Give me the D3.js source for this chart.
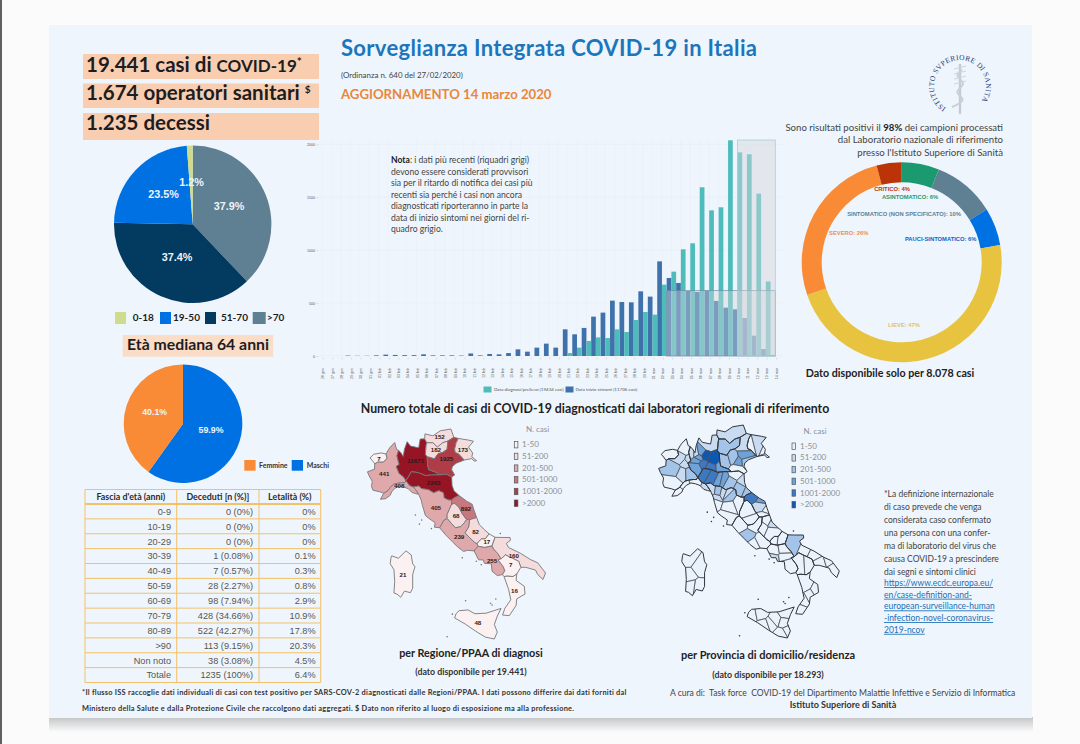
<!DOCTYPE html>
<html>
<head>
<meta charset="utf-8">
<script src="https://cdn.jsdelivr.net/npm/d3@7"></script>
<style>
  body { margin: 0; background: #fbfbfb; }
  svg { display: block; font-family: Lato, sans-serif; }
</style>
</head>
<body>
<div id="poster"></div>
<script>
// Epidemic curve
var curveDates = ["26 gen","27 gen","28 gen","29 gen","30 gen","31 gen","01 feb","02 feb","03 feb","04 feb","05 feb","06 feb","07 feb","08 feb","09 feb","10 feb","11 feb","12 feb","13 feb","14 feb","15 feb","16 feb","17 feb","18 feb","19 feb","20 feb","21 feb","22 feb","23 feb","24 feb","25 feb","26 feb","27 feb","28 feb","29 feb","01 mar","02 mar","03 mar","04 mar","05 mar","06 mar","07 mar","08 mar","09 mar","10 mar","11 mar","12 mar","13 mar","14 mar"];
var onsetCases = [0,0,0,4,2,2,6,13,10,8,8,16,6,6,6,4,24,6,19,16,28,63,41,79,117,79,252,205,265,372,410,523,510,507,611,561,894,737,690,614,605,617,520,457,441,359,192,66,10];
var diagnosisCases = [0,0,0,0,0,0,0,0,0,0,0,0,0,0,0,0,0,0,0,0,0,0,0,0,0,0,28,79,142,176,170,252,227,340,416,391,674,797,1008,1065,1594,1376,1405,2038,1924,1906,1534,705,0];
var yTicks = [0, 500, 1000, 1500, 2000];
var curveLegend = ["Data diagnosi/prelievo (19434 casi)", "Data inizio sintomi (11706 casi)"];

// Pies
var ageLabels = [">70", "51-70", "19-50", "0-18"];
var ageShares = [37.9, 37.4, 23.5, 1.2];
var ageColors = ["#5f7f93", "#033a60", "#0071e3", "#cfdc8e"];
var sexLabels = ["Maschi", "Femmine"];
var sexShares = [59.9, 40.1];
var sexColors = ["#0071e3", "#f98a36"];

// Clinical state donut
var stateLabels = ["ASINTOMATICO", "SINTOMATICO (NON SPECIFICATO)", "PAUCI-SINTOMATICO", "LIEVE", "SEVERO", "CRITICO"];
var stateShares = [6, 10, 6, 47, 26, 4];
var stateColors = ["#1b9a70", "#5f7f93", "#0071e3", "#e8c340", "#f98a36", "#bb3408"];

// Deaths table
var tableHead = ["Fascia d'età (anni)", "Deceduti [n (%)]", "Letalità (%)"];
var tableAges = ["0-9","10-19","20-29","30-39","40-49","50-59","60-69","70-79","80-89",">90","Non noto","Totale"];
var tableDeaths = ["0 (0%)","0 (0%)","0 (0%)","1 (0.08%)","7 (0.57%)","28 (2.27%)","98 (7.94%)","428 (34.66%)","522 (42.27%)","113 (9.15%)","38 (3.08%)","1235 (100%)"];
var tableLethality = ["0%","0%","0%","0.1%","0.3%","0.8%","2.9%","10.9%","17.8%","20.3%","4.5%","6.4%"];

// Maps: cases per region, rough outlines and label anchors in lon/lat
var classLabels = ["1-50", "51-200", "201-500", "501-1000", "1001-2000", ">2000"];
var classBreaks = [51, 201, 501, 1001, 2001];
var redClasses = ["#fbf1f1", "#f4dcdc", "#dfa9ac", "#c9777f", "#ae3d48", "#951524"];
var blueClasses = ["#eaf2fb", "#c8dbf1", "#a3c4e8", "#6fa2d9", "#3c79c2", "#0d58b0"];

var regionNames = ["Valle d'Aosta","Piemonte","Liguria","Lombardia","Bolzano","Trento","Veneto","Friuli","Emilia-Romagna","Toscana","Umbria","Marche","Lazio","Abruzzo","Molise","Campania","Puglia","Basilicata","Calabria","Sicilia","Sardegna"];
var regionCases = [7,441,408,11671,152,182,1925,173,2263,405,68,892,239,82,17,255,160,7,16,48,21];
var regionLabelAt = [[7.4,45.73],[7.75,45.0],[8.75,44.42],[9.85,45.62],[11.45,46.72],[11.2,46.12],[11.9,45.72],[13.0,46.12],[11.05,44.58],[11.2,43.4],[12.55,43.0],[13.2,43.35],[12.75,41.95],[13.85,42.2],[14.6,41.72],[14.95,40.75],[16.4,41.0],[16.2,40.55],[16.45,39.2],[14.0,37.55],[9.0,40.05]];
var regionOutlines = [
  [[6.80,45.75],[7.05,45.92],[7.55,45.98],[7.87,45.93],[7.94,45.73],[7.70,45.55],[7.30,45.55],[7.12,45.47],[6.95,45.63]],
  [[7.12,45.47],[7.30,45.55],[7.70,45.55],[7.94,45.73],[7.87,45.93],[8.05,46.15],[8.15,46.25],[8.45,46.46],[8.57,46.15],[8.71,46.10],[8.60,45.85],[8.65,45.70],[8.75,45.45],[8.55,45.35],[8.75,45.02],[9.05,44.85],[9.20,44.68],[9.12,44.58],[8.90,44.58],[8.60,44.55],[8.35,44.50],[8.15,44.35],[8.00,44.20],[7.72,44.08],[7.45,44.15],[7.00,44.22],[6.90,44.40],[6.95,44.65],[6.75,44.90],[6.63,45.10],[7.10,45.22]],
  [[7.72,44.08],[7.50,43.79],[7.85,43.82],[8.15,43.98],[8.25,44.15],[8.45,44.31],[8.75,44.42],[9.05,44.38],[9.35,44.30],[9.60,44.12],[9.85,44.06],[10.05,44.03],[9.85,44.25],[9.70,44.38],[9.45,44.45],[9.20,44.68],[9.12,44.58],[8.90,44.58],[8.60,44.55],[8.35,44.50],[8.15,44.35],[8.00,44.20]],
  [[8.71,46.10],[8.85,46.00],[9.02,45.82],[9.10,46.15],[9.28,46.50],[9.50,46.30],[10.05,46.22],[10.15,46.62],[10.45,46.63],[10.60,46.45],[10.55,46.35],[10.50,45.92],[10.62,45.80],[10.65,45.42],[10.72,45.20],[11.20,45.08],[11.43,44.95],[10.90,44.95],[10.50,44.92],[10.10,45.04],[9.85,45.08],[9.55,45.10],[9.40,44.90],[9.20,44.68],[9.05,44.85],[8.75,45.02],[8.55,45.35],[8.75,45.45],[8.65,45.70],[8.60,45.85]],
  [[10.45,46.63],[10.47,46.86],[11.00,46.77],[11.50,47.00],[12.20,47.08],[12.40,46.70],[12.00,46.53],[11.65,46.45],[11.30,46.25],[11.00,46.45],[10.60,46.45]],
  [[10.60,46.45],[11.00,46.45],[11.30,46.25],[11.65,46.45],[12.00,46.53],[11.95,46.15],[11.65,46.00],[11.35,45.95],[11.10,45.70],[10.90,45.75],[10.62,45.80],[10.50,45.92],[10.55,46.35]],
  [[10.62,45.80],[10.90,45.75],[11.10,45.70],[11.35,45.95],[11.65,46.00],[11.95,46.15],[12.00,46.53],[12.40,46.70],[12.70,46.65],[12.55,46.45],[12.45,46.15],[12.50,46.00],[12.70,45.95],[13.10,45.65],[12.55,45.50],[12.30,45.35],[12.25,45.20],[12.45,44.95],[12.25,44.85],[11.90,44.98],[11.43,44.95],[11.20,45.08],[10.72,45.20],[10.65,45.42]],
  [[12.70,46.65],[13.40,46.57],[13.71,46.52],[13.38,46.25],[13.65,45.98],[13.60,45.80],[13.92,45.62],[13.75,45.60],[13.60,45.72],[13.10,45.65],[12.70,45.95],[12.50,46.00],[12.45,46.15],[12.55,46.45]],
  [[9.20,44.68],[9.40,44.90],[9.55,45.10],[9.85,45.08],[10.10,45.04],[10.50,44.92],[10.90,44.95],[11.43,44.95],[11.90,44.98],[12.25,44.85],[12.28,44.45],[12.40,44.20],[12.75,43.97],[12.40,43.85],[12.25,43.75],[12.05,43.75],[11.75,43.85],[11.70,44.10],[11.40,44.20],[11.05,44.10],[10.70,44.25],[10.25,44.30],[10.05,44.42],[9.70,44.38],[9.45,44.45]],
  [[10.05,44.03],[9.85,44.25],[9.70,44.38],[10.05,44.42],[10.25,44.30],[10.70,44.25],[11.05,44.10],[11.40,44.20],[11.70,44.10],[11.75,43.85],[12.05,43.75],[12.25,43.75],[12.25,43.55],[12.10,43.30],[11.95,43.05],[11.95,42.85],[11.75,42.78],[11.45,42.40],[11.10,42.43],[11.15,42.65],[10.75,42.85],[10.50,43.00],[10.30,43.50],[10.22,43.75]],
  [[12.10,43.30],[12.25,43.55],[12.45,43.60],[12.75,43.40],[12.95,43.10],[13.25,42.80],[13.10,42.65],[12.85,42.45],[12.50,42.40],[12.25,42.60],[11.95,42.85],[11.95,43.05]],
  [[12.75,43.97],[13.25,43.70],[13.62,43.55],[13.75,43.25],[13.92,42.90],[13.45,42.80],[13.25,42.80],[12.95,43.10],[12.75,43.40],[12.45,43.60],[12.25,43.55],[12.25,43.75],[12.40,43.85]],
  [[11.45,42.40],[11.75,42.78],[11.95,42.85],[12.25,42.60],[12.50,42.40],[12.85,42.45],[13.10,42.65],[13.25,42.80],[13.45,42.80],[13.40,42.45],[13.15,42.15],[13.40,41.95],[13.75,41.70],[13.95,41.60],[14.03,41.48],[13.85,41.35],[13.75,41.25],[13.30,41.28],[13.05,41.22],[12.65,41.45],[12.25,41.75],[11.85,42.05]],
  [[13.45,42.80],[13.92,42.90],[14.10,42.55],[14.45,42.30],[14.75,42.10],[14.50,41.85],[14.25,41.85],[14.03,41.70],[13.95,41.60],[13.75,41.70],[13.40,41.95],[13.15,42.15],[13.40,42.45]],
  [[14.75,42.10],[15.15,41.93],[14.95,41.50],[14.45,41.42],[14.03,41.48],[13.95,41.60],[14.03,41.70],[14.25,41.85],[14.50,41.85]],
  [[13.85,41.35],[14.03,41.48],[14.45,41.42],[14.95,41.50],[15.05,41.35],[15.35,41.10],[15.55,40.85],[15.35,40.80],[15.70,40.45],[15.80,40.25],[15.65,40.05],[15.30,40.00],[14.95,40.22],[14.90,40.60],[14.45,40.62],[14.35,40.80],[14.05,40.80],[13.75,41.25]],
  [[15.15,41.93],[15.55,41.92],[16.15,41.92],[16.18,41.78],[15.90,41.62],[16.05,41.42],[16.85,41.13],[17.50,40.82],[18.00,40.65],[18.52,40.13],[18.35,39.80],[18.00,40.05],[17.85,40.28],[17.20,40.42],[16.87,40.42],[16.73,40.72],[16.40,40.85],[16.10,40.95],[15.85,41.05],[15.55,40.85],[15.35,41.10],[15.05,41.35],[14.95,41.50]],
  [[15.55,40.85],[15.85,41.05],[16.10,40.95],[16.40,40.85],[16.73,40.72],[16.87,40.42],[16.60,40.08],[16.35,39.95],[15.95,39.97],[15.75,39.95],[15.65,40.05],[15.80,40.25],[15.70,40.45],[15.35,40.80]],
  [[15.75,39.95],[15.95,39.97],[16.35,39.95],[16.60,40.08],[16.55,39.75],[17.10,39.45],[17.15,39.05],[16.60,38.80],[16.55,38.45],[16.10,37.92],[15.65,37.95],[15.80,38.30],[16.20,38.75],[16.05,39.30]],
  [[12.45,37.80],[12.55,38.03],[12.75,38.18],[13.35,38.22],[13.80,38.02],[14.55,38.05],[15.55,38.30],[15.30,37.90],[15.10,37.45],[15.30,37.05],[15.10,36.68],[14.50,36.78],[13.85,37.10],[13.15,37.48]],
  [[8.20,40.90],[8.25,41.00],[8.70,40.88],[9.20,41.25],[9.55,41.05],[9.65,40.60],[9.80,40.45],[9.65,40.05],[9.65,39.35],[9.50,39.12],[9.10,39.20],[8.85,38.88],[8.60,39.05],[8.40,39.10],[8.45,39.70],[8.40,40.30],[8.15,40.60]]
];
var smallIslands = [[10.25,42.78],[9.83,43.03],[10.9,42.36],[13.9,40.73],[14.23,40.55],[12.96,40.9],[14.95,38.48],[14.85,38.57],[15.2,38.79],[13.18,38.7],[12.3,38.0],[15.5,42.12],[11.95,36.8],[10.1,42.58]];

// province: region index, lon, lat, class index
var provinces = [
  [0,7.32,45.74,0],
  [1,7.68,45.07,2],[1,8.42,45.32,1],[1,8.62,45.45,1],[1,7.55,44.39,0],[1,8.2,44.9,1],[1,8.62,44.91,2],[1,8.05,45.57,1],[1,8.4,46.0,0],
  [2,8.03,43.89,0],[2,8.48,44.31,0],[2,8.93,44.41,0],[2,9.82,44.1,1],
  [3,8.82,45.82,1],[3,9.08,45.81,1],[3,9.87,46.17,1],[3,9.19,45.46,3],[3,9.67,45.7,5],[3,10.22,45.54,5],[3,9.16,45.19,3],[3,10.02,45.13,4],[3,10.79,45.16,3],[3,9.4,45.85,3],[3,9.5,45.31,4],[3,9.27,45.58,3],
  [4,11.35,46.5,1],[5,11.12,46.07,2],
  [6,10.99,45.44,2],[6,11.55,45.55,2],[6,12.22,46.14,1],[6,12.24,45.67,3],[6,12.33,45.44,2],[6,11.88,45.41,3],[6,11.79,45.07,0],
  [7,13.23,46.06,1],[7,12.66,45.96,0],[7,13.62,45.94,0],[7,13.77,45.65,0],
  [8,9.7,45.05,4],[8,10.33,44.8,4],[8,10.63,44.7,3],[8,10.93,44.65,3],[8,11.34,44.49,2],[8,11.62,44.84,0],[8,12.2,44.42,1],[8,12.04,44.22,2],[8,12.57,44.06,2],
  [9,10.14,44.04,1],[9,10.5,44.0,2],[9,10.92,43.93,1],[9,11.25,43.77,2],[9,11.1,43.88,1],[9,10.4,43.72,1],[9,10.32,43.55,0],[9,11.88,43.47,0],[9,11.33,43.32,0],[9,11.11,42.76,0],
  [10,12.39,43.11,0],[10,12.64,42.56,0],
  [11,12.91,43.91,4],[11,13.52,43.62,3],[11,13.45,43.3,1],[11,13.72,43.16,0],[11,13.58,42.85,0],
  [12,12.1,42.42,0],[12,12.86,42.4,0],[12,12.5,41.9,2],[12,12.9,41.47,0],[12,13.35,41.64,0],
  [13,13.4,42.35,0],[13,13.7,42.66,0],[13,14.21,42.46,1],[13,14.17,42.1,0],
  [14,14.66,41.56,0],[14,14.23,41.59,0],
  [15,14.33,41.07,0],[15,14.78,41.13,0],[15,14.27,40.85,1],[15,14.79,40.91,0],[15,14.97,40.4,0],
  [16,15.54,41.46,2],[16,16.28,41.22,0],[16,16.87,41.0,0],[16,17.23,40.47,0],[16,17.94,40.63,0],[16,18.17,40.35,0],
  [17,15.8,40.64,0],[17,16.6,40.67,0],
  [18,16.25,39.4,0],[18,17.0,39.1,0],[18,16.6,38.9,0],[18,16.1,38.68,0],[18,15.85,38.15,0],
  [19,12.7,37.9,0],[19,13.36,38.0,0],[19,15.0,38.0,0],[19,13.58,37.32,0],[19,14.05,37.45,0],[19,14.27,37.6,0],[19,14.9,37.45,0],[19,14.72,36.93,0],[19,15.1,37.1,0],
  [20,8.56,40.73,0],[20,9.33,40.32,0],[20,8.59,39.9,0],[20,9.2,39.3,0],[20,8.75,39.35,0]
];

var svg = d3.select("#poster").append("svg")
  .attr("width", 1080)
  .attr("height", 744);

var defs = svg.append("defs");
var shadow = defs.append("linearGradient").attr("id", "shadow")
  .attr("x1", 0).attr("x2", 0).attr("y1", 0).attr("y2", 1);
shadow.append("stop").attr("offset", 0).attr("stop-color", "#c2c4c6");
shadow.append("stop").attr("offset", 1).attr("stop-color", "#fbfbfb");

// sheet and its shadow
svg.append("rect").attr("x", 0).attr("y", 0).attr("width", 2).attr("height", 744).attr("fill", "#606060");
svg.append("rect").attr("x", 49).attr("y", 717).attr("width", 984).attr("height", 15).attr("fill", "url(#shadow)");
svg.append("rect").attr("x", 49).attr("y", 25).attr("width", 983).attr("height", 693).attr("fill", "#eff5fc");

function addText(x, y, str, size, opts) {
  opts = opts || {};
  return svg.append("text")
    .attr("x", x)
    .attr("y", y)
    .attr("font-size", size)
    .attr("font-weight", opts.weight || "normal")
    .attr("fill", opts.fill || "#333")
    .attr("text-anchor", opts.anchor || "start")
    .attr("letter-spacing", opts.spacing || null)
    .text(str);
}

// one line in several styles, each run is its own text placed after the last
function addRuns(x, y, runs, alignRight) {
  var nodes = runs.map(function(run) {
    return addText(x, y + (run.dy || 0), run.text, run.size, run).attr("xml:space", "preserve").style("white-space", "pre");
  });
  var widths = nodes.map(function(n) { return n.node().getComputedTextLength(); });
  var cursor = alignRight ? x - d3.sum(widths) : x;
  nodes.forEach(function(n, i) {
    n.attr("x", cursor);
    cursor += widths[i];
  });
}

// ---- header ----
addText(341, 56, "Sorveglianza Integrata COVID-19 in Italia", 22, {weight: "bold", fill: "#1c76bc", spacing: 0.33});
addText(341, 78, "(Ordinanza n. 640 del 27/02/2020)", 7.9, {fill: "#444"});
addText(341, 99, "AGGIORNAMENTO 14 marzo 2020", 13.2, {weight: "bold", fill: "#e8873a"});

[[54, 25], [83.5, 24.5], [113, 27]].forEach(function(box) {
  svg.append("rect").attr("x", 83).attr("y", box[0]).attr("width", 236).attr("height", box[1]).attr("fill", "#f9ceb0");
});
var headDark = "#1d1d22";
addRuns(86, 72, [
  {text: "19.441 casi di ", size: 20.5, weight: "bold", fill: headDark},
  {text: "COVID-19", size: 17, weight: "bold", fill: headDark},
  {text: "*", size: 12, weight: "bold", fill: headDark, dy: -6}
]);
addRuns(86, 100, [
  {text: "1.674 operatori sanitari ", size: 20.5, weight: "bold", fill: headDark},
  {text: "$", size: 10, weight: "bold", fill: headDark, dy: -7}
]);
addText(86, 130, "1.235 decessi", 20.5, {weight: "bold", fill: headDark});

// ---- pies ----
function drawPie(cx, cy, radius, inner, shares, colors) {
  var pie = d3.pie().sort(null)(shares);
  var arc = d3.arc().innerRadius(inner).outerRadius(radius);
  svg.append("g").attr("transform", "translate(" + cx + "," + cy + ")")
    .selectAll("path")
    .data(pie)
    .enter()
    .append("path")
    .attr("d", arc)
    .attr("fill", function(d, i) { return colors[i]; });
}

function pieLabel(x, y, str, size) {
  addText(x, y, str, size, {weight: "bold", fill: "#eef4fa", anchor: "middle"}).attr("font-family", "Liberation Sans");
}

drawPie(192.7, 224.3, 78.7, 0, ageShares, ageColors);
pieLabel(229, 210, "37.9%", 10.8);
pieLabel(177, 260.5, "37.4%", 10.8);
pieLabel(163.5, 198, "23.5%", 10.8);
pieLabel(191.5, 185.5, "1.2%", 10.8);

var ageLegendX = [115, 160, 205, 252.7];
var ageLegendText = [132.7, 173, 221, 267];
ageLabels.slice().reverse().forEach(function(lab, i) {
  svg.append("rect").attr("x", ageLegendX[i]).attr("y", 312).attr("width", i == 3 ? 13 : 11).attr("height", 12)
    .attr("fill", ageColors[3 - i]);
  addText(ageLegendText[i], 320.5, lab, 10, {weight: "bold", fill: headDark});
});

svg.append("rect").attr("x", 122.7).attr("y", 335).attr("width", 150.5).attr("height", 21.7).attr("fill", "#fbdcc7");
addText(198, 350, "Età mediana 64 anni", 15.8, {weight: "bold", fill: headDark, anchor: "middle"});

drawPie(183, 423.7, 59.3, 0, sexShares, sexColors);
pieLabel(154.7, 415, "40.1%", 8.8);
pieLabel(211, 433, "59.9%", 8.8);
[[244.3, 259, 1], [291.7, 306.7, 0]].forEach(function(leg) {
  svg.append("rect").attr("x", leg[0]).attr("y", 460).attr("width", 11.3).attr("height", 10.7).attr("fill", sexColors[leg[2]]);
  addText(leg[1], 467.5, sexLabels[leg[2]], 7, {weight: "bold", fill: "#333"});
});

// ---- deaths table ----
var tableX = [85, 176.7, 259, 320.7];
var tableRight = [171, 253, 315.6];
var tableY = d3.scaleLinear().domain([0, 12]).range([504, 682.5]);
var tableBorder = "#f3c168";

tableHead.forEach(function(head, i) {
  addText((tableX[i] + tableX[i + 1]) / 2, 500, head, 8.9, {weight: "bold", fill: "#2a2a30", anchor: "middle"});
});
[tableAges, tableDeaths, tableLethality].forEach(function(col, c) {
  svg.append("g").selectAll("text")
    .data(col)
    .enter()
    .append("text")
    .attr("x", tableRight[c])
    .attr("y", function(d, i) { return tableY(i) + 10.8; })
    .attr("text-anchor", "end")
    .attr("font-size", 9.2)
    .attr("font-family", "Liberation Sans")
    .attr("fill", "#555")
    .text(function(d) { return d; });
});
svg.append("g").selectAll("line")
  .data(d3.range(0, 13))
  .enter()
  .append("line")
  .attr("x1", tableX[0])
  .attr("x2", tableX[3])
  .attr("y1", function(d) { return tableY(d); })
  .attr("y2", function(d) { return tableY(d); })
  .attr("stroke", tableBorder)
  .attr("stroke-width", function(d) { return d == 0 ? 2 : 1; });
svg.append("line").attr("x1", tableX[0]).attr("x2", tableX[3]).attr("y1", 489.5).attr("y2", 489.5).attr("stroke", tableBorder);
tableX.forEach(function(x) {
  svg.append("line").attr("x1", x).attr("x2", x).attr("y1", 489.5).attr("y2", 682.5).attr("stroke", tableBorder);
});

// ---- epidemic curve ----
var x = d3.scaleBand().domain(curveDates).range([317.3, 780]);
var xSub = d3.scaleBand().domain(["onset", "diagnosis"]).range([0, x.bandwidth()]);
var y = d3.scaleLinear().domain([0, 2000]).range([356, 144.3]);
var curveTop = 140;

svg.append("g").selectAll("line")
  .data(curveDates)
  .enter()
  .append("line")
  .attr("x1", function(d) { return x(d) + x.bandwidth() / 2; })
  .attr("x2", function(d) { return x(d) + x.bandwidth() / 2; })
  .attr("y1", curveTop)
  .attr("y2", 358)
  .attr("stroke", "#e8eef5")
  .attr("stroke-width", 0.4);
svg.append("g").selectAll("line")
  .data(yTicks)
  .enter()
  .append("line")
  .attr("x1", 318)
  .attr("x2", 783)
  .attr("y1", function(d) { return y(d); })
  .attr("y2", function(d) { return y(d); })
  .attr("stroke", "#e3eaf2")
  .attr("stroke-width", 0.5);

svg.append("g").selectAll("rect")
  .data(curveDates)
  .enter()
  .append("rect")
  .attr("x", function(d) { return x(d) + xSub("onset"); })
  .attr("y", function(d, i) { return y(onsetCases[i]); })
  .attr("width", xSub.bandwidth())
  .attr("height", function(d, i) { return y(0) - y(onsetCases[i]); })
  .attr("fill", "#3f72ab");
svg.append("g").selectAll("rect")
  .data(curveDates)
  .enter()
  .append("rect")
  .attr("x", function(d) { return x(d) + xSub("diagnosis"); })
  .attr("y", function(d, i) { return y(diagnosisCases[i]); })
  .attr("width", xSub.bandwidth())
  .attr("height", function(d, i) { return y(0) - y(diagnosisCases[i]); })
  .attr("fill", "#4fbcbc");

// provisional data boxes
var boxEnd = x("14 mar") + xSub.bandwidth();
svg.append("rect")
  .attr("x", x("03 mar"))
  .attr("y", y(617))
  .attr("width", boxEnd - x("03 mar"))
  .attr("height", y(0) - y(617))
  .attr("fill", "#d2d6dc")
  .attr("fill-opacity", 0.42)
  .attr("stroke", "#6f8ca5")
  .attr("stroke-width", 0.7);
svg.append("rect")
  .attr("x", x("10 mar") + xSub("diagnosis"))
  .attr("y", curveTop)
  .attr("width", boxEnd - x("10 mar") - xSub("diagnosis"))
  .attr("height", y(0) - curveTop)
  .attr("fill", "#d4d7dc")
  .attr("fill-opacity", 0.45)
  .attr("stroke", "#a9d0d6")
  .attr("stroke-width", 0.8);

var xAxis = svg.append("g")
  .attr("transform", "translate(1.3,358)")
  .call(d3.axisBottom(x).tickSize(1.2).tickPadding(9));
xAxis.select(".domain").remove();
xAxis.selectAll("line").attr("stroke", "#888").attr("stroke-width", 0.3);
xAxis.selectAll("text")
  .attr("transform", "rotate(-90)")
  .attr("x", -10)
  .attr("y", 0)
  .attr("dy", "0.32em")
  .attr("text-anchor", "end")
  .attr("font-size", 3.6)
  .attr("fill", "#555");

var yAxis = svg.append("g")
  .attr("transform", "translate(318,0)")
  .call(d3.axisLeft(y).tickValues(yTicks).tickFormat(d3.format("d")).tickSize(1.5).tickPadding(1.5));
yAxis.select(".domain").remove();
yAxis.selectAll("line").attr("stroke", "#888").attr("stroke-width", 0.3);
yAxis.selectAll("text").attr("font-size", 3.6).attr("fill", "#555");

svg.append("rect").attr("x", 483.5).attr("y", 386.5).attr("width", 8).attr("height", 6).attr("fill", "#4fbcbc");
addText(494, 391, curveLegend[0], 4.5, {fill: "#555"});
svg.append("rect").attr("x", 565.5).attr("y", 386.5).attr("width", 8).attr("height", 6).attr("fill", "#3f72ab");
addText(575.5, 391, curveLegend[1], 4.5, {fill: "#555"});

var notaLines = ["i dati più recenti (riquadri grigi)", "devono essere considerati provvisori", "sia per il ritardo di notifica dei casi più", "recenti sia perché i casi non ancora", "diagnosticati riporteranno in parte la", "data di inizio sintomi nei giorni del ri-", "quadro grigio."];
var notaY = [163, 175, 186, 198, 209, 221, 232];
addRuns(391, notaY[0], [
  {text: "Nota", size: 8.6, weight: "bold", fill: "#222"},
  {text: ": " + notaLines[0], size: 8.6, fill: "#444"}
]);
notaLines.slice(1).forEach(function(line, i) {
  addText(391, notaY[i + 1], line, 8.6, {fill: "#444"});
});

// ---- donut ----
addRuns(1003, 131, [
  {text: "Sono risultati positivi il ", size: 9.6, fill: "#444"},
  {text: "98%", size: 9.6, weight: "bold", fill: "#222"},
  {text: " dei campioni processati", size: 9.6, fill: "#444"}
], true);
addText(1003, 143, "dal Laboratorio nazionale di riferimento", 9.6, {fill: "#444", anchor: "end"});
addText(1003, 156, "presso l'Istituto Superiore di Sanità", 9.6, {fill: "#444", anchor: "end"});

drawPie(901.7, 262.3, 100, 80, stateShares, stateColors);

var stateLabelX = [910, 904, 940.7, 904, 848.7, 892];
var stateLabelY = [199, 216, 241, 326.7, 234.7, 191];
var stateTextColors = ["#1b9a70", "#5f7f93", "#0b63c8", "#e0c266", "#ee8e4a", "#bb3408"];
stateLabels.forEach(function(lab, i) {
  addText(stateLabelX[i], stateLabelY[i], lab + ": " + stateShares[i] + "%", 5.8, {weight: "bold", fill: stateTextColors[i], anchor: "middle"})
    .attr("font-family", "Liberation Sans");
});
addText(890, 377, "Dato disponibile solo per 8.078 casi", 10.7, {weight: "bold", fill: "#222", anchor: "middle"});

// ---- logo ----
var ringPath = d3.path();
ringPath.arc(960, 86, 26, Math.PI * 0.68, Math.PI * 2.32);
defs.append("path").attr("id", "logoRing").attr("d", ringPath.toString());
svg.append("line").attr("x1", 960).attr("x2", 960).attr("y1", 64).attr("y2", 114).attr("stroke", "#c3cad2").attr("stroke-width", 2.4);
var snake = d3.line().curve(d3.curveBasis);
svg.append("path")
  .attr("d", snake([[952, 107], [968, 100], [952, 92], [968, 84], [954, 76], [962, 70]]))
  .attr("fill", "none")
  .attr("stroke", "#c9d0d8")
  .attr("stroke-width", 2);
d3.range(66, 84, 5).forEach(function(ly) {
  svg.append("line").attr("x1", 954).attr("x2", 966).attr("y1", ly + 3).attr("y2", ly).attr("stroke", "#cfd5dc").attr("stroke-width", 1);
});
svg.append("text")
  .attr("font-family", "Liberation Serif")
  .attr("font-size", 7.4)
  .attr("fill", "#1f3c78")
  .attr("letter-spacing", 0.35)
  .append("textPath")
  .attr("href", "#logoRing")
  .text("ISTITUTO SVPERIORE DI SANITA");

// ---- maps ----
addText(595, 413, "Numero totale di casi di COVID-19 diagnosticati dai laboratori regionali di riferimento", 12.35, {weight: "bold", fill: "#222", anchor: "middle"});

var allPoints = {type: "MultiPoint", coordinates: d3.merge(regionOutlines)};

function drawIslands(projection, color) {
  svg.append("g").selectAll("circle")
    .data(smallIslands)
    .enter()
    .append("circle")
    .attr("cx", function(d) { return projection(d)[0]; })
    .attr("cy", function(d) { return projection(d)[1]; })
    .attr("r", 0.8)
    .attr("fill", color);
}

function drawLegend(title, titleX, boxX, textX, rowY, colors, textColor) {
  addText(titleX, rowY - 12, title, 8, {fill: textColor, anchor: "middle"});
  classLabels.forEach(function(lab, i) {
    svg.append("rect")
      .attr("x", boxX).attr("y", rowY + i * 11.7 - 2.5)
      .attr("width", 3.6).attr("height", 6.4)
      .attr("fill", colors[i])
      .attr("stroke", "#555")
      .attr("stroke-width", 0.7);
    addText(textX, rowY + i * 11.7 + 3.2, lab, 8, {fill: textColor});
  });
}

function outlinePath(projection) {
  return d3.line()
    .x(function(p) { return projection(p)[0]; })
    .y(function(p) { return projection(p)[1]; })
    .curve(d3.curveLinearClosed);
}

// Regional map
var regionProjection = d3.geoMercator().fitExtent([[364, 429], [549, 639]], allPoints);
var regionLine = outlinePath(regionProjection);
var regionColor = d3.scaleThreshold().domain(classBreaks).range(redClasses);

svg.append("g").selectAll("path")
  .data(regionOutlines)
  .enter()
  .append("path")
  .attr("d", function(d) { return regionLine(d); })
  .attr("fill", function(d, i) { return regionColor(regionCases[i]); })
  .attr("stroke", "#77777c")
  .attr("stroke-width", 0.9)
  .attr("stroke-linejoin", "round");
drawIslands(regionProjection, "#777");
svg.append("g").selectAll("text")
  .data(regionCases)
  .enter()
  .append("text")
  .attr("x", function(d, i) { return regionProjection(regionLabelAt[i])[0]; })
  .attr("y", function(d, i) { return regionProjection(regionLabelAt[i])[1] + 2.2; })
  .attr("text-anchor", "middle")
  .attr("font-size", 6.2)
  .attr("font-weight", "bold")
  .attr("font-family", "Liberation Sans")
  .attr("fill", "#2a1a1c")
  .text(function(d) { return d; });
drawLegend("N. casi", 537.5, 514.3, 522, 444, redClasses, "#8a8f96");
addText(471, 657, "per Regione/PPAA di diagnosi", 10.8, {weight: "bold", fill: "#222", anchor: "middle"});
addText(471, 675, "(dato disponibile per 19.441)", 8.8, {weight: "bold", fill: "#333", anchor: "middle"});

// Province map: cells around the provincial capitals, cut to the region outlines
var provProjection = d3.geoMercator().fitExtent([[658, 425], [840, 638]], allPoints);
var provLine = outlinePath(provProjection);

regionOutlines.forEach(function(outline, r) {
  var id = "provClip" + r;
  defs.append("clipPath").attr("id", id).append("path").attr("d", provLine(outline));
  var members = provinces.filter(function(p) { return p[0] == r; });
  var points = members.map(function(p) { return provProjection([p[1], p[2]]); });
  var voronoi = d3.Delaunay.from(points).voronoi([640, 400, 860, 660]);
  svg.append("g").attr("clip-path", "url(#" + id + ")")
    .selectAll("path")
    .data(members)
    .enter()
    .append("path")
    .attr("d", function(d, i) { return voronoi.renderCell(i); })
    .attr("fill", function(d) { return blueClasses[d[3]]; })
    .attr("stroke", "#4a4f58")
    .attr("stroke-width", 0.8);
});
svg.append("g").selectAll("path")
  .data(regionOutlines)
  .enter()
  .append("path")
  .attr("d", function(d) { return provLine(d); })
  .attr("fill", "none")
  .attr("stroke", "#33373e")
  .attr("stroke-width", 1)
  .attr("stroke-linejoin", "round");
drawIslands(provProjection, "#333");
drawLegend("N. casi", 815, 792, 800, 445.5, blueClasses, "#8a8f96");
addText(768, 659, "per Provincia di domicilio/residenza", 11, {weight: "bold", fill: "#222", anchor: "middle"});
addText(768, 678, "(dato disponibile per 18.293)", 8.8, {weight: "bold", fill: "#333", anchor: "middle"});

// ---- side note ----
var caseNote = ["*La definizione internazionale", "di caso prevede che venga", "considerata caso confermato", "una persona con una confer-", "ma di laboratorio del virus che", "causa COVID-19 a prescindere", "dai segni e sintomi clinici"];
var caseNoteY = [497, 510, 523, 536, 549, 562, 575];
caseNote.forEach(function(line, i) {
  addText(884, caseNoteY[i], line, 8.5, {fill: "#444"});
});
var linkLines = ["https://www.ecdc.europa.eu/", "en/case-definition-and-", "european-surveillance-human", "-infection-novel-coronavirus-", "2019-ncov"];
linkLines.forEach(function(line, i) {
  addText(884, 586 + i * 11.7, line, 8.5, {fill: "#1c6fb5"}).attr("text-decoration", "underline");
});

// ---- footnotes ----
addText(82, 695, "*Il flusso ISS raccoglie dati individuali di casi con test positivo per SARS-COV-2 diagnosticati dalle Regioni/PPAA. I dati possono differire dai dati forniti dal", 7.4, {weight: "bold", fill: "#333", spacing: 0.25});
addText(82, 711, "Ministero della Salute e dalla Protezione Civile che raccolgono dati aggregati. $ Dato non riferito al luogo di esposizione ma alla professione.", 7.4, {weight: "bold", fill: "#333", spacing: 0.25});
addText(670, 696, "A cura di:  Task force  COVID-19 del Dipartimento Malattie Infettive e Servizio di Informatica", 8.55, {fill: "#444"}).style("white-space", "pre");
addText(843, 708, "Istituto Superiore di Sanità", 9, {weight: "bold", fill: "#333", anchor: "middle"});
</script>
</body>
</html>
